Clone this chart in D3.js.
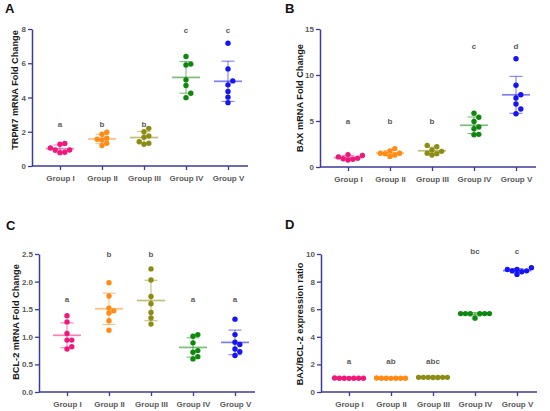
<!DOCTYPE html>
<html>
<head>
<meta charset="utf-8">
<script src="https://d3js.org/d3.v7.min.js"></script>
<style>
    body { margin: 0; background: #fff; }
    text { font-family: "Liberation Sans", Arial, sans-serif; font-weight: bold; }
</style>
</head>
<body>
<div id="chart"></div>
<script>
    // groups and colours
    const groups = ["Group I", "Group II", "Group III", "Group IV", "Group V"];
    const groupColors = ["#f0187c", "#ff8a14", "#8c8c12", "#0d880d", "#1414f5"];

    // A: TRPM7 mRNA fold change (7 per group)
    const trpm7 = [
        [1.05, 0.78, 0.93, 1.27, 0.80, 1.32, 0.93],
        [1.97, 1.52, 1.19, 1.62, 1.85, 1.33, 1.56],
        [2.20, 1.68, 1.27, 2.00, 1.42, 1.75, 1.33],
        [6.39, 5.90, 5.95, 5.03, 4.70, 4.25, 3.99],
        [7.17, 5.67, 4.97, 4.74, 4.35, 4.02, 3.70]
    ];
    const trpm7Letters = ["a", "b", "b", "c", "c"];
    const trpm7LetterAt = [2.45, 2.45, 2.45, 7.95, 7.95];

    // B: BAX mRNA fold change
    const bax = [
        [1.35, 0.85, 1.25, 0.90, 1.10, 0.75, 0.95],
        [1.30, 1.50, 1.45, 2.00, 1.50, 1.75, 1.15],
        [1.45, 1.85, 2.35, 2.20, 1.50, 1.70, 1.30],
        [5.85, 4.95, 4.15, 3.50, 5.40, 4.35, 3.55],
        [11.76, 8.88, 7.86, 7.50, 6.84, 6.30, 5.79]
    ];
    const baxLetters = ["a", "b", "b", "c", "d"];
    const baxLetterAt = [4.95, 4.95, 4.95, 13.1, 13.1];

    // C: BCL-2 mRNA fold change
    const bcl2 = [
        [1.38, 1.27, 1.06, 0.94, 0.94, 0.78, 0.82],
        [1.98, 1.74, 1.52, 1.47, 1.43, 1.29, 1.12],
        [2.23, 2.03, 1.73, 1.60, 1.44, 1.34, 1.23],
        [1.04, 1.01, 0.89, 0.72, 0.75, 0.60, 0.64],
        [1.32, 1.04, 0.90, 0.86, 0.78, 0.73, 0.66]
    ];
    const bcl2Letters = ["a", "b", "b", "a", "a"];
    const bcl2LetterAt = [1.68, 2.5, 2.5, 1.68, 1.68];

    // D: BAX/BCL-2 expression ratio
    const ratio = [
        [1.00, 1.00, 0.99, 1.00, 1.01, 1.00, 1.00],
        [1.00, 1.01, 1.00, 0.99, 1.00, 1.00, 1.00],
        [1.06, 1.06, 1.05, 1.06, 1.06, 1.05, 1.06],
        [5.68, 5.68, 5.68, 5.68, 5.35, 5.68, 5.68],
        [8.71, 8.88, 8.78, 8.88, 9.00, 8.52, 8.78]
    ];
    const ratioLetters = ["a", "ab", "abc", "bc", "c"];
    const ratioLetterAt = [2.23, 2.23, 2.23, 10.17, 10.17];

    const panels = [
        { tag: "A", data: trpm7, letters: trpm7Letters, letterAt: trpm7LetterAt,
          ticks: [0, 2, 4, 6, 8], fmt: d3.format("d"), title: "TRPM7 mRNA Fold Change",
          ax: 32, top: 29, bottom: 166, titleX: 15, titleY: 90, tagX: 5, tagY: 13 },
        { tag: "B", data: bax, letters: baxLetters, letterAt: baxLetterAt,
          ticks: [0, 5, 10, 15], fmt: d3.format("d"), title: "BAX mRNA Fold Change",
          ax: 320, top: 29, bottom: 167, titleX: 300, titleY: 98, tagX: 285, tagY: 13 },
        { tag: "C", data: bcl2, letters: bcl2Letters, letterAt: bcl2LetterAt,
          ticks: [0, 0.5, 1, 1.5, 2, 2.5], fmt: d3.format(".1f"), title: "BCL-2 mRNA Fold Change",
          ax: 39, top: 254, bottom: 392, titleX: 16, titleY: 322, tagX: 6, tagY: 230 },
        { tag: "D", data: ratio, letters: ratioLetters, letterAt: ratioLetterAt,
          ticks: [0, 2, 4, 6, 8, 10], fmt: d3.format("d"), title: "BAX/BCL-2 expression ratio",
          ax: 321, top: 254, bottom: 392, titleX: 300, titleY: 324, tagX: 285, tagY: 229 }
    ];

    const width = 550, height = 411;
    const axisColor = "#3b3b9c";
    const labelColor = "#5a5a5a";
    const r = 2.7;        // drawn radius
    const gap = 4.8;      // spacing used by the swarm (dots may overlap a bit)

    const svg = d3.select("#chart").append("svg")
        .attr("width", width)
        .attr("height", height);

    svg.append("rect").attr("width", width).attr("height", height).attr("fill", "#fff");

    // simple swarm: push overlapping points sideways
    function swarm(vals, y, cx) {
        const order = vals.map((v, i) => i).sort((a, b) => vals[a] - vals[b]);
        const placed = [];
        const out = new Array(vals.length);
        order.forEach(i => {
            const py = y(vals[i]);
            let k = 0;
            while (true) {
                const off = (k % 2 === 1 ? 1 : -1) * Math.ceil(k / 2) * gap;
                const px = cx + off;
                if (!placed.some(p => Math.hypot(p[0] - px, p[1] - py) < gap - 0.01)) {
                    placed.push([px, py]);
                    out[i] = [px, py];
                    break;
                }
                k++;
            }
        });
        return out;
    }

    panels.forEach(p => {
        const g = svg.append("g");
        const maxY = p.ticks[p.ticks.length - 1];

        const y = d3.scaleLinear().domain([0, maxY]).range([p.bottom, p.top]);
        const x = d3.scalePoint().domain(groups).range([p.ax + 28, p.ax + 196]);

        // panel letter
        g.append("text")
            .attr("x", p.tagX).attr("y", p.tagY)
            .style("font-size", "13px").attr("fill", "#111")
            .text(p.tag);

        // y axis
        const yAxis = g.append("g")
            .attr("transform", `translate(${p.ax},0)`)
            .call(d3.axisLeft(y).tickValues(p.ticks).tickFormat(p.fmt).tickSize(4).tickPadding(2).tickSizeOuter(0));
        yAxis.select(".domain").attr("stroke", axisColor).attr("stroke-width", 1.5);
        yAxis.selectAll(".tick line").attr("stroke", axisColor).attr("stroke-width", 1.3);
        yAxis.selectAll(".tick text").attr("fill", labelColor)
            .style("font-size", "8px").style("font-family", "Liberation Sans, Arial, sans-serif").style("font-weight", "bold");

        // x axis
        const xAxis = g.append("g")
            .attr("transform", `translate(0,${p.bottom})`)
            .call(d3.axisBottom(x).tickSize(4).tickPadding(5).tickSizeOuter(0));
        xAxis.select(".domain").attr("d", `M${p.ax},0H${p.ax + 216}`)
            .attr("stroke", axisColor).attr("stroke-width", 1.5);
        xAxis.selectAll(".tick line").attr("stroke", axisColor).attr("stroke-width", 1.3);
        xAxis.selectAll(".tick text").attr("fill", labelColor)
            .style("font-size", "8px").style("font-family", "Liberation Sans, Arial, sans-serif").style("font-weight", "bold");

        // y title
        g.append("text")
            .attr("transform", `translate(${p.titleX},${p.titleY}) rotate(-90)`)
            .attr("text-anchor", "middle")
            .attr("dy", "0.35em")
            .style("font-size", "9.2px").attr("fill", "#1a1a1a")
            .text(p.title);

        // groups: mean, SD, dots, letters
        p.data.forEach((vals, gi) => {
            const cx = x(groups[gi]);
            const col = groupColors[gi];
            const m = d3.mean(vals);
            const sd = d3.deviation(vals);
            const lg = g.append("g").attr("stroke", col).attr("stroke-opacity", 0.55).attr("fill", "none");

            lg.append("line")
                .attr("x1", cx).attr("x2", cx)
                .attr("y1", y(m + sd)).attr("y2", y(Math.max(0, m - sd)))
                .attr("stroke-width", 1.1);
            [m + sd, m - sd].forEach(v => {
                lg.append("line")
                    .attr("x1", cx - 6.5).attr("x2", cx + 6.5)
                    .attr("y1", y(v)).attr("y2", y(v))
                    .attr("stroke-width", 1.1);
            });
            lg.append("line")
                .attr("x1", cx - 14).attr("x2", cx + 14)
                .attr("y1", y(m)).attr("y2", y(m))
                .attr("stroke-width", 1.7);

            g.selectAll(null)
                .data(swarm(vals, y, cx))
                .join("circle")
                .attr("cx", d => d[0])
                .attr("cy", d => d[1])
                .attr("r", r)
                .attr("fill", col);

            g.append("text")
                .attr("x", cx)
                .attr("y", y(p.letterAt[gi]))
                .attr("dy", "0.35em")
                .attr("text-anchor", "middle")
                .style("font-size", "8px").attr("fill", labelColor)
                .text(p.letters[gi]);
        });
    });
</script>
</body>
</html>
